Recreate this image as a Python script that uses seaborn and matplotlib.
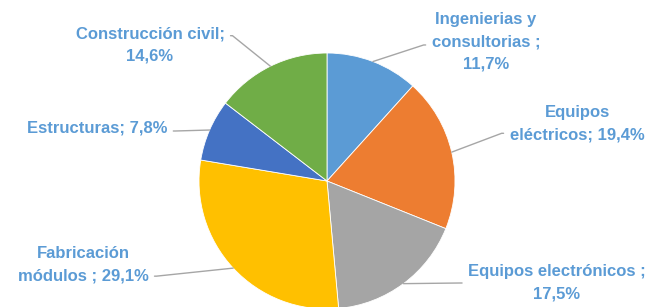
import numpy as np
import matplotlib
matplotlib.use("Agg")
import matplotlib.pyplot as plt
import seaborn as sns

# ---------------------------------------------------------------------------
# Datos
# ---------------------------------------------------------------------------
categorias = [
    "Ingenierias y\nconsultorias ;",
    "Equipos\neléctricos;",
    "Equipos electrónicos ;",
    "Fabricación\nmódulos ;",
    "Estructuras;",
    "Construcción civil;",
]
porcentajes = [11.7, 19.4, 17.5, 29.1, 7.8, 14.6]
colores = ["#5B9BD5", "#ED7D31", "#A5A5A5", "#FFC000", "#4472C4", "#70AD47"]
# separador entre nombre y valor en cada etiqueta
separador = ["\n", " ", "\n", " ", " ", "\n"]

# posicion de cada etiqueta (pixeles de figura, origen abajo-izquierda),
# y donde se engancha la linea guia en la caja del texto
pos_etiquetas = [(486, 265), (577, 183), (557, 24), (83, 42), (97, 179), (150, 262)]
engancho = [(0.0, 0.45), (0.0, 0.25), (0.0, 0.5), (1.0, 0.2), (1.0, 0.3), (1.0, 0.75)]

# ---------------------------------------------------------------------------
# Figura
# ---------------------------------------------------------------------------
sns.set_theme(style="white")
plt.rcParams["font.family"] = ["Liberation Sans", "DejaVu Sans"]

W, H = 649, 307
fig = plt.figure(figsize=(W / 100, H / 100), dpi=100)

cx, cy, r = 327, 307 - 181, 128
ax = fig.add_axes([(cx - r) / W, (cy - r) / H, 2 * r / W, 2 * r / H])

wedges, _ = ax.pie(
    porcentajes,
    colors=colores,
    startangle=90,
    counterclock=False,
    radius=1,
    wedgeprops=dict(linewidth=0.6, edgecolor="white"),
)
ax.set_xlim(-1, 1)
ax.set_ylim(-1, 1)
ax.set_aspect("equal")
ax.axis("off")

for w, cat, val, sep, (tx, ty), rel in zip(
    wedges, categorias, porcentajes, separador, pos_etiquetas, engancho
):
    ang = np.deg2rad((w.theta1 + w.theta2) / 2)
    x, y = np.cos(ang), np.sin(ang)
    txt = cat + sep + f"{val:.1f}%".replace(".", ",")
    # tramo horizontal corto junto al texto, luego recto hasta la tarta
    angA = 0 if rel[0] == 1.0 else 180
    ax.annotate(
        txt,
        xy=(x, y),
        xycoords="data",
        xytext=(tx, ty),
        textcoords="figure pixels",
        ha="center",
        va="center",
        multialignment="center",
        fontsize=12,
        fontweight="bold",
        color="#5B9BD5",
        linespacing=1.6,
        annotation_clip=False,
        arrowprops=dict(
            arrowstyle="-",
            color="#A6A6A6",
            lw=1.0,
            relpos=rel,
            shrinkA=2,
            shrinkB=0,
            connectionstyle=f"arc,angleA={angA},angleB=0,armA=8,armB=0,rad=0",
        ),
    )

fig.savefig("out.png", dpi=100)
